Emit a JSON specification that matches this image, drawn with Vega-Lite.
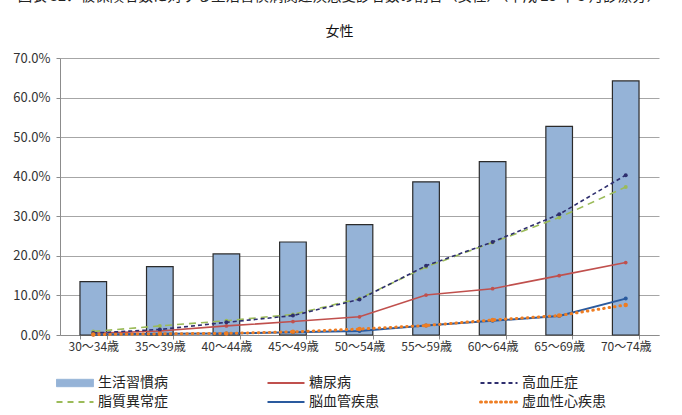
{
  "$schema": "https://vega.github.io/schema/vega-lite/v6.json",
  "autosize": {"type": "none"},
  "width": 599,
  "height": 277,
  "padding": {"left": 60, "top": 58, "right": 23, "bottom": 80},
  "background": "white",
  "config": {
    "font": "Noto Sans CJK JP",
    "view": {"stroke": null},
    "axis": {"labelFont": "Noto Sans CJK JP", "labelColor": "#333333"}
  },
  "title": {
    "text": "図表 32．被保険者数に対する生活習慣病関連疾患受診者数の割合（女性）（平成 28 年 5 月診療分）",
    "subtitle": "女性",
    "anchor": "middle",
    "frame": "group",
    "dx": -20,
    "offset": 12,
    "fontSize": 14.5,
    "fontWeight": "normal",
    "color": "#222222",
    "subtitleFontSize": 14,
    "subtitleColor": "#111111",
    "subtitlePadding": 21
  },
  "data": {
    "values": [
      {"age": "30～34歳", "series": "生活習慣病", "value": 0.135},
      {"age": "35～39歳", "series": "生活習慣病", "value": 0.173},
      {"age": "40～44歳", "series": "生活習慣病", "value": 0.205},
      {"age": "45～49歳", "series": "生活習慣病", "value": 0.235},
      {"age": "50～54歳", "series": "生活習慣病", "value": 0.279},
      {"age": "55～59歳", "series": "生活習慣病", "value": 0.387},
      {"age": "60～64歳", "series": "生活習慣病", "value": 0.438},
      {"age": "65～69歳", "series": "生活習慣病", "value": 0.527},
      {"age": "70～74歳", "series": "生活習慣病", "value": 0.642},
      {"age": "30～34歳", "series": "糖尿病", "value": 0.004},
      {"age": "35～39歳", "series": "糖尿病", "value": 0.010},
      {"age": "40～44歳", "series": "糖尿病", "value": 0.023},
      {"age": "45～49歳", "series": "糖尿病", "value": 0.034},
      {"age": "50～54歳", "series": "糖尿病", "value": 0.046},
      {"age": "55～59歳", "series": "糖尿病", "value": 0.101},
      {"age": "60～64歳", "series": "糖尿病", "value": 0.117},
      {"age": "65～69歳", "series": "糖尿病", "value": 0.150},
      {"age": "70～74歳", "series": "糖尿病", "value": 0.183},
      {"age": "30～34歳", "series": "高血圧症", "value": 0.005},
      {"age": "35～39歳", "series": "高血圧症", "value": 0.014},
      {"age": "40～44歳", "series": "高血圧症", "value": 0.032},
      {"age": "45～49歳", "series": "高血圧症", "value": 0.049},
      {"age": "50～54歳", "series": "高血圧症", "value": 0.090},
      {"age": "55～59歳", "series": "高血圧症", "value": 0.175},
      {"age": "60～64歳", "series": "高血圧症", "value": 0.235},
      {"age": "65～69歳", "series": "高血圧症", "value": 0.305},
      {"age": "70～74歳", "series": "高血圧症", "value": 0.404},
      {"age": "30～34歳", "series": "脂質異常症", "value": 0.009},
      {"age": "35～39歳", "series": "脂質異常症", "value": 0.023},
      {"age": "40～44歳", "series": "脂質異常症", "value": 0.036},
      {"age": "45～49歳", "series": "脂質異常症", "value": 0.052},
      {"age": "50～54歳", "series": "脂質異常症", "value": 0.092},
      {"age": "55～59歳", "series": "脂質異常症", "value": 0.172},
      {"age": "60～64歳", "series": "脂質異常症", "value": 0.234},
      {"age": "65～69歳", "series": "脂質異常症", "value": 0.297},
      {"age": "70～74歳", "series": "脂質異常症", "value": 0.374},
      {"age": "30～34歳", "series": "脳血管疾患", "value": 0.001},
      {"age": "35～39歳", "series": "脳血管疾患", "value": 0.003},
      {"age": "40～44歳", "series": "脳血管疾患", "value": 0.004},
      {"age": "45～49歳", "series": "脳血管疾患", "value": 0.007},
      {"age": "50～54歳", "series": "脳血管疾患", "value": 0.010},
      {"age": "55～59歳", "series": "脳血管疾患", "value": 0.024},
      {"age": "60～64歳", "series": "脳血管疾患", "value": 0.036},
      {"age": "65～69歳", "series": "脳血管疾患", "value": 0.048},
      {"age": "70～74歳", "series": "脳血管疾患", "value": 0.092},
      {"age": "30～34歳", "series": "虚血性心疾患", "value": 0.001},
      {"age": "35～39歳", "series": "虚血性心疾患", "value": 0.003},
      {"age": "40～44歳", "series": "虚血性心疾患", "value": 0.004},
      {"age": "45～49歳", "series": "虚血性心疾患", "value": 0.008},
      {"age": "50～54歳", "series": "虚血性心疾患", "value": 0.015},
      {"age": "55～59歳", "series": "虚血性心疾患", "value": 0.024},
      {"age": "60～64歳", "series": "虚血性心疾患", "value": 0.038},
      {"age": "65～69歳", "series": "虚血性心疾患", "value": 0.049},
      {"age": "70～74歳", "series": "虚血性心疾患", "value": 0.076}
    ]
  },
  "encoding": {
    "x": {
      "field": "age",
      "type": "nominal",
      "sort": null,
      "title": null,
      "scale": {"paddingInner": 0.6, "paddingOuter": 0.3},
      "axis": {
        "labelAngle": 0,
        "labelFontSize": 12,
        "tickBand": "extent",
        "tickSize": 4,
        "tickColor": "#8c8c8c",
        "domainColor": "#8c8c8c",
        "labelPadding": 2
      }
    },
    "y": {
      "field": "value",
      "type": "quantitative",
      "title": null,
      "scale": {"domain": [0, 0.7]},
      "axis": {
        "values": [0, 0.1, 0.2, 0.3, 0.4, 0.5, 0.6, 0.7],
        "format": ".1%",
        "labelFontSize": 13,
        "tickSize": 4,
        "labelPadding": 6,
        "tickColor": "#8c8c8c",
        "domainColor": "#8c8c8c",
        "gridColor": "#a6a6a6",
        "gridWidth": 1
      }
    },
    "color": {
      "field": "series",
      "type": "nominal",
      "scale": {
        "domain": ["生活習慣病", "脂質異常症", "糖尿病", "脳血管疾患", "高血圧症", "虚血性心疾患"],
        "range": ["#95B3D7", "#9BBB59", "#C0504D", "#2A5A9E", "#2E2E6E", "#EE7D22"]
      },
      "legend": {
        "title": null,
        "orient": "none",
        "legendX": 8,
        "legendY": 318,
        "columns": 3,
        "columnPadding": 95,
        "rowPadding": 5,
        "labelFontSize": 14,
        "labelColor": "#222222",
        "labelOffset": 16,
        "symbolSize": 1369,
        "symbolStrokeWidth": 2,
        "encode": {
          "symbols": {
            "update": {
              "size": {"value": 1369},
              "shape": {"signal": "datum.value === '生活習慣病' ? 'M-1,-0.2H1V0.2H-1Z' : 'stroke'"},
              "fill": {"signal": "datum.value === '生活習慣病' ? '#95B3D7' : 'transparent'"},
              "stroke": {"signal": "datum.value === '生活習慣病' ? '#333333' : datum.value === '糖尿病' ? '#C0504D' : datum.value === '高血圧症' ? '#2E2E6E' : datum.value === '脂質異常症' ? '#9BBB59' : datum.value === '脳血管疾患' ? '#2A5A9E' : '#EE7D22'"},
              "strokeDash": {"signal": "datum.value === '高血圧症' ? [4, 3] : datum.value === '脂質異常症' ? [6, 5] : datum.value === '虚血性心疾患' ? [1, 4] : [1, 0]"},
              "strokeWidth": {"signal": "datum.value === '虚血性心疾患' ? 3 : datum.value === '生活習慣病' ? 1 : 2"},
              "strokeCap": {"signal": "datum.value === '虚血性心疾患' ? 'round' : 'butt'"},
              "opacity": {"value": 1}
            }
          }
        }
      }
    }
  },
  "layer": [
    {
      "transform": [{"filter": "datum.series === '生活習慣病'"}],
      "mark": {"type": "bar", "stroke": "#2b2b2b", "strokeWidth": 1.2, "opacity": 1}
    },
    {
      "transform": [{"filter": "datum.series === '糖尿病'"}],
      "mark": {"type": "line", "strokeWidth": 1.6, "point": {"filled": true, "size": 14}}
    },
    {
      "transform": [{"filter": "datum.series === '脂質異常症'"}],
      "mark": {"type": "line", "strokeWidth": 1.6, "strokeDash": [7, 5], "point": {"filled": true, "size": 16}}
    },
    {
      "transform": [{"filter": "datum.series === '高血圧症'"}],
      "mark": {"type": "line", "strokeWidth": 1.6, "strokeDash": [4, 3], "point": {"filled": true, "size": 16}}
    },
    {
      "transform": [{"filter": "datum.series === '脳血管疾患'"}],
      "mark": {"type": "line", "strokeWidth": 2, "point": {"filled": true, "size": 16}}
    },
    {
      "transform": [{"filter": "datum.series === '虚血性心疾患'"}],
      "mark": {"type": "line", "strokeWidth": 3, "strokeDash": [0.5, 5], "strokeCap": "round", "point": {"filled": true, "size": 20}}
    }
  ]
}
